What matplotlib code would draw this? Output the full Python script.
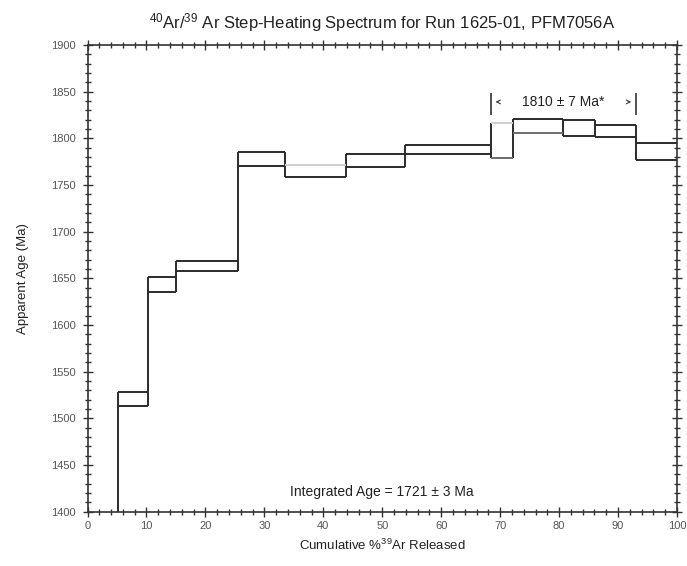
import matplotlib.pyplot as plt
import numpy as np
from matplotlib.ticker import MultipleLocator

plt.rcParams['font.family'] = ['Liberation Sans', 'DejaVu Sans']
plt.rcParams['mathtext.fontset'] = 'custom'
plt.rcParams['mathtext.rm'] = 'Liberation Sans'
plt.rcParams['mathtext.it'] = 'Liberation Sans:italic'
plt.rcParams['mathtext.default'] = 'rm'

# step boundaries (cumulative % 39Ar released)
edges = [0, 5.1, 10.25, 14.95, 25.5, 33.45, 43.8, 53.85, 68.45, 72.2, 80.7, 86.1, 93.0, 100]
# apparent age box (Ma): upper and lower 2-sigma limits; first step lies below the plot
upper = [1350, 1528, 1651, 1669, 1785, 1771, 1783, 1793, 1816, 1821, 1820, 1814, 1795]
lower = [1330, 1513, 1635, 1658, 1770, 1758, 1769, 1783, 1779, 1806, 1802, 1801, 1777]
# edge shade per step ('k' dark, 'g' mid gray, 'l' light gray)
upper_shade = ['k', 'k', 'k', 'k', 'k', 'l', 'k', 'k', 'l', 'k', 'k', 'k', 'k']
lower_shade = ['k', 'k', 'k', 'k', 'k', 'k', 'k', 'k', 'g', 'g', 'k', 'k', 'k']

plateau_age = "1810 \u00b1 7 Ma*"
plateau_range = (68.45, 93.0)
integrated_age = "Integrated Age = 1721 \u00b1 3 Ma"

shades = {'k': '#2b2b2b', 'g': '#6e6e6e', 'l': '#cfcfcf'}

fig = plt.figure(figsize=(6.87, 5.66), dpi=100)
ax = fig.add_axes([87.5 / 687, 1 - 511.5 / 566, 589.5 / 687, 466.5 / 566])

edges_a = np.array(edges)
lw = 1.4
ax.hlines(upper, edges_a[:-1], edges_a[1:], colors=[shades[s] for s in upper_shade], lw=lw, zorder=3)
ax.hlines(lower, edges_a[:-1], edges_a[1:], colors=[shades[s] for s in lower_shade], lw=lw, zorder=3)
# verticals between neighbouring steps
for i in range(1, len(edges) - 1):
    vals = [upper[i - 1], lower[i - 1], upper[i], lower[i]]
    ax.vlines(edges[i], min(vals), max(vals), colors=shades['k'], lw=lw, zorder=2)

# plateau marker
p0, p1 = plateau_range
ax.vlines([p0, p1], 1825, 1849, colors='#333333', lw=1.2)
ax.annotate('', xy=(p0 + 0.3, 1839), xytext=(p0 + 1.8, 1839),
            arrowprops=dict(arrowstyle='->', color='#333333', lw=0.7, mutation_scale=7))
ax.annotate('', xy=(p1 - 0.3, 1839), xytext=(p1 - 1.8, 1839),
            arrowprops=dict(arrowstyle='->', color='#333333', lw=0.7, mutation_scale=7))
ax.text((p0 + p1) / 2, 1839, plateau_age, ha='center', va='center', fontsize=10, color='#222222')

ax.text(50, 1421, integrated_age, ha='center', va='center', fontsize=10, color='#222222')

ax.set_xlim(0, 100)
ax.set_ylim(1400, 1900)
ax.xaxis.set_major_locator(MultipleLocator(10))
ax.xaxis.set_minor_locator(MultipleLocator(2))
ax.yaxis.set_major_locator(MultipleLocator(50))
ax.yaxis.set_minor_locator(MultipleLocator(10))
ax.tick_params(which='both', direction='inout', top=True, right=True, color='#333333',
               labelsize=8, labelcolor='#555555', width=1.0)
ax.tick_params(which='major', length=7, pad=5)
ax.tick_params(which='minor', length=4)
ax.tick_params(axis='x', which='major', pad=3)
for sp in ax.spines.values():
    sp.set_color('#333333')
    sp.set_linewidth(1.2)

ax.set_xlabel('Cumulative %$^{39}$Ar Released', fontsize=9.5, color='#222222', labelpad=5)
ax.set_ylabel('Apparent Age (Ma)', fontsize=9.5, color='#222222', labelpad=16)
ax.set_title('$^{40}$Ar/$^{39}$ Ar Step-Heating Spectrum for Run 1625-01, PFM7056A',
             fontsize=12, color='#222222', pad=12)

fig.savefig('out.png', dpi=100)
